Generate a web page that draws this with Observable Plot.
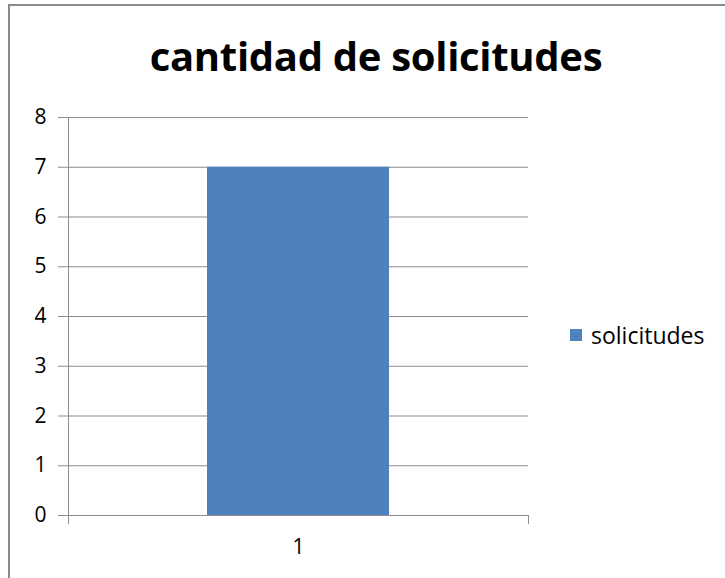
<!DOCTYPE html>
<html>
<head>
<meta charset="utf-8">
<script src="https://cdn.jsdelivr.net/npm/d3@7"></script>
<script src="https://cdn.jsdelivr.net/npm/@observablehq/plot@0.6"></script>
<style>
  body { margin: 0; background: #fff; }
  #wrap { position: relative; width: 725px; height: 578px; overflow: hidden; font-family: "Open Sans", sans-serif; }
  #border { position: absolute; left: 8px; top: 4px; right: -4px; bottom: -4px; border-left: 2px solid #8a8a8a; border-top: 2px solid #8a8a8a; }
  #title { position: absolute; left: 0; width: 752px; top: 28px; text-align: center; font-size: 40px; font-weight: 700; color: #000; letter-spacing: -0.3px; white-space: nowrap; }
  #legend { position: absolute; left: 570px; top: 320px; height: 30px; display: flex; align-items: center; font-size: 23px; color: #000; }
  #legend .sw { width: 12px; height: 12px; background: #4F81BD; margin-right: 9px; }
  #chart { position: absolute; left: 0; top: 0; }
</style>
</head>
<body>
<div id="wrap">
  <div id="border"></div>
  <div id="chart"></div>
  <div id="title">cantidad de solicitudes</div>
  <div id="legend"><div class="sw"></div><span id="legtxt"></span></div>
</div>
<script>
const categories = ["1"];
const solicitudes = [7];
const seriesName = "solicitudes";
const yTicks = [0, 1, 2, 3, 4, 5, 6, 7, 8];

const data = categories.map((c, i) => ({ cat: c, value: solicitudes[i] }));
document.getElementById("legtxt").textContent = seriesName;

const W = 725, H = 578, mL = 68, mR = 197, mT = 117, mB = 63;
const innerH = H - mT - mB;

const chart = Plot.plot({
  width: W,
  height: H,
  marginLeft: mL,
  marginRight: mR,
  marginTop: mT,
  marginBottom: mB,
  style: { fontFamily: "Open Sans, sans-serif", fontSize: "21px", color: "#000", background: "transparent", overflow: "visible" },
  x: { domain: categories, padding: 0.433, label: null },
  y: { domain: [0, 8], label: null },
  marks: [
    Plot.gridY(yTicks, { stroke: "#8c8c8c", strokeOpacity: 1, strokeWidth: 1 }),
    Plot.axisY(yTicks, { tickSize: 10, tickPadding: 12, tickFormat: d3.format("d"), stroke: "#8c8c8c", strokeOpacity: 1, fill: "#000", label: null, fontSize: 21 }),
    Plot.barY(data, { x: "cat", y: "value", fill: "#4F81BD" }),
    Plot.frame({ anchor: "left", stroke: "#8c8c8c", insetBottom: -8 }),
    Plot.frame({ anchor: "right", stroke: "#8c8c8c", insetTop: innerH, insetBottom: -8 }),
    Plot.axisX({ tickSize: 0, tickPadding: 24, fill: "#000", label: null, fontSize: 21 })
  ]
});
document.getElementById("chart").appendChild(chart);
</script>
</body>
</html>
